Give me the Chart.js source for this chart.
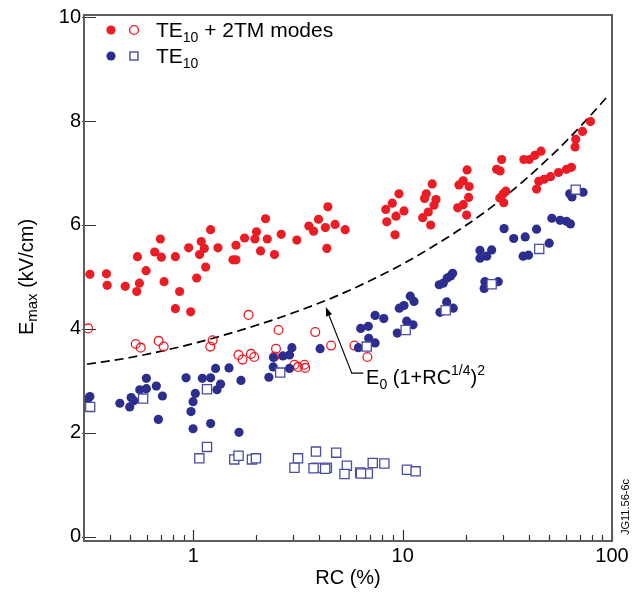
<!DOCTYPE html>
<html><head><meta charset="utf-8">
<script src="https://cdn.jsdelivr.net/npm/chart.js@4/dist/chart.umd.min.js"></script>
<style>html,body{margin:0;padding:0;background:#fff;}#wrap{width:640px;height:599px;}</style>
</head><body><div id="wrap"><canvas id="c" width="640" height="599"></canvas></div>
<script>
// ---- data ----
const redFilledRC = [0.320,0.384,0.387,0.472,0.536,0.552,0.540,0.594,0.653,0.695,0.703,0.724,0.820,0.859,0.820,0.949,0.970,1.036,1.07,1.09,1.127,1.144,1.208,1.31,1.545,1.597,1.597,1.755,1.967,2.002,2.093,2.211,2.253,2.44,2.627,3.12,3.56,3.75,3.96,4.39,4.27,4.75,5.31,4.34,8.30,8.92,9.60,9.29,10.14,8.39,9.19,12.72,12.96,14.42,14.11,13.84,13.25,12.46,13.6,18.3,20.3,18.57,19.46,20.78,20.65,19.46,20.2,29.7,28.1,29.2,31.1,30.2,29.1,30.4,37.9,40.2,42.8,45.8,43.6,44.7,47.4,50.8,55.5,60.6,64.0,66.6,67.1,72.3,78.9];
const redFilledE  = [5.05,5.06,4.84,4.82,4.72,4.88,5.39,5.12,5.48,5.73,5.38,4.91,4.39,4.72,5.39,5.56,4.33,4.98,5.43,5.68,5.55,5.19,5.91,5.56,5.33,5.33,5.61,5.75,5.73,5.87,5.50,6.12,5.73,5.43,5.82,5.71,5.98,5.88,6.11,6.35,5.95,6.01,5.91,5.55,6.30,6.42,6.60,6.17,6.27,6.06,5.81,6.51,6.60,6.49,6.38,6.79,6.25,6.14,6.00,6.33,7.06,6.77,6.85,6.74,6.53,6.39,6.19,7.26,7.07,7.04,6.65,6.60,6.52,6.43,7.26,7.26,7.34,7.42,6.69,6.84,6.88,6.93,7.01,7.07,7.11,7.50,7.65,7.80,7.99];

const redOpenRC = [0.314,1.834,0.530,0.560,0.682,0.721,1.204,1.235,1.643,1.717,1.883,1.952,2.44,2.55,3.82,4.55,5.88,6.78,2.48,3.04,3.16,3.39,3.42];
const redOpenE  = [4.01,4.27,3.71,3.64,3.77,3.66,3.66,3.78,3.50,3.41,3.52,3.46,3.47,3.98,3.94,3.68,3.68,3.46,3.62,3.31,3.27,3.31,3.25];

const blueFilledRC = [0.314,0.320,0.445,0.496,0.504,0.519,0.554,0.596,0.596,0.665,0.680,0.711,0.922,0.974,0.996,0.996,1.021,1.103,1.208,1.208,1.276,1.296,1.348,1.479,1.651,1.687,2.294,2.406,2.954,2.877,2.677,2.414,2.877,4.03,6.30,6.85,7.38,8.12,6.88,7.38,6.14,9.42,10.45,11.2,9.63,10.14,10.87,11.32,15.07,16.22,14.95,15.62,16.32,16.94,17.32,17.43,30.5,33.9,38.5,43.6,51.6,56.5,60.6,63.3,50.1,37.6,39.9,23.4,26.6,25.2,23.4,24.7,24.5,28.6,62.8,64.4,72.7];
const blueFilledE  = [2.66,2.70,2.57,2.50,2.68,2.62,2.83,2.85,3.05,2.90,2.26,2.71,3.06,2.41,2.60,2.08,2.76,3.05,3.06,2.18,3.24,2.83,2.94,3.25,2.01,3.01,3.07,3.27,3.64,3.50,3.48,3.45,3.24,3.62,4.01,4.05,4.26,4.20,3.82,3.73,3.64,3.92,4.15,4.08,4.40,4.45,4.63,4.53,4.32,4.52,4.85,4.88,4.98,5.02,5.07,4.40,5.93,5.74,5.77,5.92,6.13,6.09,6.07,6.02,5.65,5.40,5.42,5.51,5.52,5.40,5.36,4.91,4.78,4.91,6.60,6.54,6.63];

const blueOpenRC = [0.321,0.575,1.161,1.161,1.067,1.567,1.643,1.904,1.989,2.598,6.73,10.33,16.04,67.1,44.9,26.6,3.16,3.04,3.85,3.86,4.34,4.81,5.41,5.27,6.26,6.81,7.19,8.17,10.48,11.53,3.75,4.26,6.32];
const blueOpenE  = [2.50,2.66,2.84,1.73,1.51,1.49,1.56,1.49,1.51,3.16,3.66,3.98,4.36,6.68,5.54,4.86,1.51,1.33,1.64,1.33,1.33,1.62,1.37,1.21,1.24,1.22,1.42,1.41,1.29,1.26,1.32,1.31,1.22];

// dashed curve E0(1+RC^1/4)^2
const curveRC = [0.31,0.5,1,2,3,5,10,20,30,50,70,96];
const curveE  = [3.32,3.45,3.72,4.07,4.31,4.66,5.25,5.99,6.51,7.29,7.88,8.49];

const xTickValues = [0.4,0.5,0.6,0.7,0.8,0.9,1,2,3,4,5,6,7,8,9,10,20,30,40,50,60,70,80,90,100];
const xTickLabels = ['1','10','100'];
const yTickValues = [0,2,4,6,8,10];

const legendLabels = [['TE','10',' + 2TM modes'],['TE','10','']];
const xTitle = 'RC (%)';
const yTitleParts = ['E','max',' (kV/cm)'];
const noteParts = ['E','0',' (1+RC','1/4',')','2'];
const sideNote = 'JG11.56-6c';

// ---- styling ----
const FONT = "'Liberation Sans', Arial, Helvetica, sans-serif";
const RED = '#ec1c24', BLUE = '#2b2e8f', SQ = '#4a4ea0';
const pts = (xs, ys) => xs.map((x, i) => ({x, y: ys[i]}));

const annot = { tip: [4.29, 4.42], elbow: [5.71, 3.15], end: [6.48, 3.15], text: [6.68, 2.94] };

const decor = {
  id: 'decor',
  afterDatasetsDraw(chart) {
    const ctx = chart.ctx, a = chart.chartArea, xs = chart.scales.x, ys = chart.scales.y;
    ctx.save();
    ctx.strokeStyle = '#333'; ctx.lineWidth = 1.2;
    ctx.beginPath();
    xTickValues.forEach(v => {
      const p = Math.round(xs.getPixelForValue(v)) + 0.5;
      const major = Math.abs(Math.log10(v) - Math.round(Math.log10(v))) < 1e-9;
      const len = major ? 11 : 6;
      ctx.moveTo(p, a.bottom); ctx.lineTo(p, a.bottom - len);
    });
    yTickValues.forEach(v => {
      const p = Math.round(ys.getPixelForValue(v)) + 0.5;
      ctx.moveTo(a.left - 2, p); ctx.lineTo(a.left + 12, p);
    });
    ctx.stroke();
    ctx.strokeStyle = '#5c5c5c'; ctx.lineWidth = 2;
    ctx.strokeRect(a.left, a.top, a.right - a.left, a.bottom - a.top);
    const P = q => [xs.getPixelForValue(q[0]), ys.getPixelForValue(q[1])];
    const t = P(annot.tip), e = P(annot.elbow), n = P(annot.end);
    ctx.strokeStyle = '#000'; ctx.lineWidth = 1.1;
    const ang = Math.atan2(t[1] - e[1], t[0] - e[0]);
    const hl = 9, hw = 3.2;
    const bx = t[0] - hl * Math.cos(ang), by = t[1] - hl * Math.sin(ang);
    ctx.beginPath(); ctx.moveTo(n[0], n[1]); ctx.lineTo(e[0], e[1]); ctx.lineTo(bx, by); ctx.stroke();
    ctx.fillStyle = '#000';
    ctx.beginPath();
    ctx.moveTo(t[0], t[1]);
    ctx.lineTo(bx + hw * Math.sin(ang), by - hw * Math.cos(ang));
    ctx.lineTo(bx - hw * Math.sin(ang), by + hw * Math.cos(ang));
    ctx.closePath(); ctx.fill();
    const tp = P(annot.text);
    const segs = [[noteParts[0],20,0],[noteParts[1],14,5],[noteParts[2],20,0],[noteParts[3],14,-9],[noteParts[4],20,0],[noteParts[5],14,-9]];
    let x = tp[0];
    ctx.textBaseline = 'alphabetic'; ctx.textAlign = 'left';
    segs.forEach(s => { ctx.font = s[1] + 'px ' + FONT; ctx.fillText(s[0], x, tp[1] + s[2]); x += ctx.measureText(s[0]).width; });
    ctx.restore();
  },
  afterDraw(chart) {
    const ctx = chart.ctx;
    ctx.save();
    const rows = [{y: 30, c1: RED, open: 'circle', c2: RED}, {y: 56, c1: BLUE, open: 'square', c2: SQ}];
    rows.forEach((r, i) => {
      ctx.fillStyle = r.c1; ctx.beginPath(); ctx.arc(111, r.y, 4.6, 0, Math.PI * 2); ctx.fill();
      ctx.strokeStyle = r.c2; ctx.lineWidth = 1.4;
      if (r.open === 'circle') { ctx.beginPath(); ctx.arc(134, r.y, 4.4, 0, Math.PI * 2); ctx.stroke(); }
      else { ctx.fillStyle = '#fff'; ctx.fillRect(130, r.y - 4, 8, 8); ctx.strokeRect(130, r.y - 4, 8, 8); }
      ctx.fillStyle = '#000'; ctx.textAlign = 'left'; ctx.textBaseline = 'alphabetic';
      const L = legendLabels[i];
      let x = 156; const base = r.y + 7;
      ctx.font = '21px ' + FONT; ctx.fillText(L[0], x, base); x += ctx.measureText(L[0]).width;
      ctx.font = '14px ' + FONT; ctx.fillText(L[1], x, base + 5); x += ctx.measureText(L[1]).width;
      ctx.font = '21px ' + FONT; ctx.fillText(L[2], x, base);
    });
    ctx.translate(33, 277); ctx.rotate(-Math.PI / 2);
    const yt = [[yTitleParts[0],20,0],[yTitleParts[1],15,4],[yTitleParts[2],20,0]];
    let w = 0; yt.forEach(s => { ctx.font = s[1] + 'px ' + FONT; w += ctx.measureText(s[0]).width; });
    let x = -w / 2;
    ctx.fillStyle = '#000';
    yt.forEach(s => { ctx.font = s[1] + 'px ' + FONT; ctx.fillText(s[0], x, s[2]); x += ctx.measureText(s[0]).width; });
    ctx.restore();
    ctx.save();
    ctx.translate(629, 535); ctx.rotate(-Math.PI / 2);
    ctx.font = '11px ' + FONT; ctx.fillStyle = '#000'; ctx.textAlign = 'left'; ctx.textBaseline = 'alphabetic';
    ctx.fillText(sideNote, 0, 0);
    ctx.restore();
  }
};

new Chart(document.getElementById('c'), {
  type: 'scatter',
  data: {
    datasets: [
      { label: 'TE10 (open)', data: pts(blueOpenRC, blueOpenE), pointStyle: 'rect', pointRadius: 6.5, borderColor: SQ, backgroundColor: '#fff', borderWidth: 1.3 },
      { label: 'TE10', data: pts(blueFilledRC, blueFilledE), pointStyle: 'circle', pointRadius: 4.6, borderWidth: 0, backgroundColor: BLUE, borderColor: BLUE },
      { label: 'TE10 + 2TM (open)', data: pts(redOpenRC, redOpenE), pointStyle: 'circle', pointRadius: 4.4, borderWidth: 1.3, backgroundColor: 'rgba(0,0,0,0)', borderColor: RED },
      { label: 'TE10 + 2TM modes', data: pts(redFilledRC, redFilledE), pointStyle: 'circle', pointRadius: 4.6, borderWidth: 0, backgroundColor: RED, borderColor: RED },
      { type: 'line', label: 'E0(1+RC^1/4)^2', data: pts(curveRC, curveE), showLine: true, pointRadius: 0, borderColor: '#000', borderWidth: 1.7, borderDash: [9, 5], cubicInterpolationMode: 'monotone', fill: false }
    ]
  },
  options: {
    responsive: false, animation: false, devicePixelRatio: 1,
    layout: { padding: { top: 12, right: 28, left: 0, bottom: 0 } },
    plugins: { legend: { display: false }, tooltip: { enabled: false } },
    scales: {
      x: {
        type: 'logarithmic', min: 0.3, max: 100,
        afterBuildTicks: s => { s.ticks = xTickValues.map(v => ({ value: v })); },
        afterFit: s => { s.height = 58; },
        grid: { display: false, drawTicks: false }, border: { display: false },
        ticks: { autoSkip: false, maxRotation: 0, padding: 3, color: '#000', font: { family: FONT, size: 20 },
          callback: v => xTickLabels.includes(String(v)) ? String(v) : '' },
        title: { display: true, text: xTitle, color: '#000', font: { family: FONT, size: 20 }, padding: { top: 0, bottom: 9 } }
      },
      y: {
        type: 'linear', min: -0.08, max: 10.04,
        afterBuildTicks: s => { s.ticks = yTickValues.map(v => ({ value: v })); },
        afterFit: s => { s.width = 84; },
        grid: { display: false, drawTicks: false }, border: { display: false },
        ticks: { padding: 3, color: '#000', font: { family: FONT, size: 20 }, callback: v => String(v) }
      }
    }
  },
  plugins: [decor]
});
</script></body></html>
